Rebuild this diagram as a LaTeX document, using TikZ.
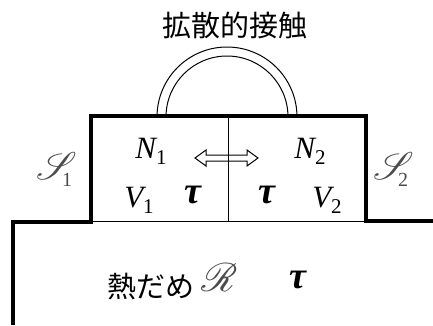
\documentclass[tikz,border=0pt]{standalone}
\usepackage{fontspec}
\usepackage{mathrsfs}
\setmainfont{Liberation Serif}
\newfontfamily\jpfont{Noto Sans CJK JP}
\newfontfamily\timesf{Liberation Serif}
\newcommand{\subx}[1]{\raisebox{-0.4ex}{\fontsize{21}{24}\timesf\upshape #1}}
\newcommand{\scrwithsub}[3]{\makebox[0pt][l]{\scalebox{1.55}{$\mathscr{#1}$}}\hspace{#3}\raisebox{-7pt}{\fontsize{20}{24}\timesf\upshape #2}}
\tikzset{
  thickwall/.style={line width=3.2pt, line join=miter},
  thinline/.style={line width=1pt},
  mlabel/.style={font=\timesf\fontsize{31}{34}\selectfont\itshape, inner sep=0pt},
  tlabel/.style={font=\timesf\fontsize{38}{44}\selectfont\bfseries\itshape, inner sep=0pt},
  jlabel/.style={font=\jpfont\fontsize{29}{32}\selectfont, inner sep=0pt},
  slabel/.style={font=\fontsize{24}{28}\selectfont, inner sep=0pt, text=black!70}
}
\begin{document}
\begin{tikzpicture}[x=1pt,y=-1pt]
\useasboundingbox (0,0) rectangle (433,325);
% arc (diffusive contact)
\draw[thinline] (157,117) arc[start angle=180,end angle=360,radius=70];
\draw[thinline] (166,117) arc[start angle=180,end angle=360,radius=61];
% box divider and bottom
\draw[thinline] (228,116) coordinate (dtop) -- (228,221) coordinate (dbot);
\draw[thinline] (91,221) coordinate (bl) -- (366,221) coordinate (br);
% walls
\draw[thickwall] (13,325) coordinate (rb) -- (13,222) -- (91,222) -- (91,116) -- (366,116) -- (366,221) -- (433,221) coordinate (re);
% double arrow (open)
\draw[thinline] (195,158) -- (206,150) -- (206,155) -- (247,155) -- (247,150) -- (258,158)
  -- (247,166) -- (247,161) -- (206,161) -- (206,166) -- cycle;
% labels
\node[jlabel] (title) at (235,25) {拡散的接触};
\node[slabel, anchor=base west] (s1) at (36,179) {\scrwithsub{S}{1}{26pt}};
\node[slabel, anchor=base west] (s2) at (373,179) {\scrwithsub{S}{2}{25pt}};
\node[mlabel] (n1) at (151,151) {N\subx{1}};
\node[mlabel] (n2) at (310,151) {N\subx{2}};
\node[mlabel] (v1) at (139,200) {V\subx{1}};
\node[tlabel] (t1) at (193,195) {τ};
\node[tlabel] (t2) at (267,195) {τ};
\node[mlabel] (v2) at (327,200) {V\subx{2}};
\node[jlabel] (res) at (151,286) {熱だめ};
\node[slabel, anchor=base west] (R) at (201,291) {\scalebox{1.6}{$\mathscr{R}$}};
\node[tlabel] (t3) at (298,280) {τ};
\end{tikzpicture}
\end{document}
